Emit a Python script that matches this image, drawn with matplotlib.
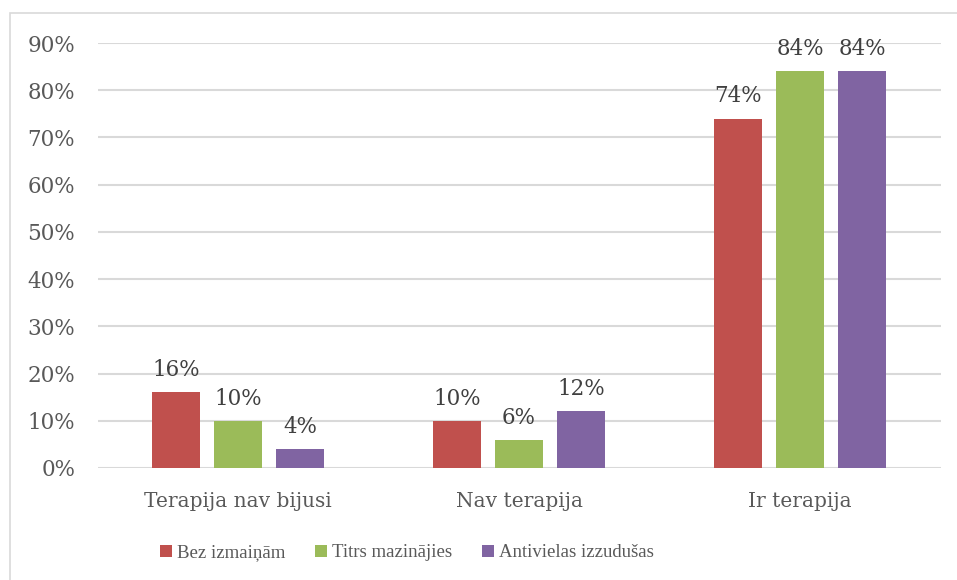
import numpy as np
import matplotlib.pyplot as plt
from matplotlib.patches import Rectangle

categories = ['Terapija nav bijusi', 'Nav terapija', 'Ir terapija']
series_names = ['Bez izmaiņām', 'Titrs mazinājies', 'Antivielas izzudušas']
bez = [0.16, 0.10, 0.74]
titrs = [0.10, 0.06, 0.84]
anti = [0.04, 0.12, 0.84]
colors = ['#C0504D', '#9BBB59', '#8064A2']
yticks = np.arange(0, 0.91, 0.1)

plt.rcParams['font.family'] = ['DejaVu Serif']
txt = '#595959'

fig = plt.figure(figsize=(9.57, 5.8), dpi=100)
fig.patches.append(Rectangle((10 / 957, -0.1), 2, (580 - 13) / 580 + 0.1, transform=fig.transFigure,
                             fill=False, edgecolor='#d9d9d9', linewidth=1.2))
ax = fig.add_axes([97.5 / 957, 112 / 580, 843 / 957, 425 / 580])

x = np.arange(len(categories))
step = 0.2206
width = 0.174
for i, (vals, name, c) in enumerate(zip([bez, titrs, anti], series_names, colors)):
    pos = x + (i - 1) * step
    bars = ax.bar(pos, vals, width, color=c, label=name, zorder=3)
    for b, v in zip(bars, vals):
        ax.annotate(f'{v * 100:.0f}%', (b.get_x() + b.get_width() / 2, v),
                    xytext=(0, 8), textcoords='offset points', ha='center', va='bottom',
                    fontsize=15.5, color='#404040')

ax.set_xlim(-0.5, 2.5)
ax.set_ylim(0, 0.9)
ax.set_yticks(yticks)
ax.set_yticklabels([f'{t * 100:.0f}%' for t in yticks], fontsize=15.5, color=txt)
ax.set_xticks(x)
ax.set_xticklabels(categories, fontsize=14.5, color=txt)
ax.tick_params(length=0)
ax.tick_params(axis='y', pad=16)
ax.tick_params(axis='x', pad=17)
ax.grid(axis='y', color='#d9d9d9', linewidth=1.5, zorder=0)
for s in ax.spines.values():
    s.set_visible(False)

ax.legend(loc='upper center', bbox_to_anchor=(0.367, -0.14), ncol=3, frameon=False,
          prop={'family': 'Liberation Serif', 'size': 13.5}, labelcolor=txt,
          handlelength=0.65, handleheight=0.65, handletextpad=0.25, columnspacing=1.6)

fig.savefig('out.png', dpi=100)
